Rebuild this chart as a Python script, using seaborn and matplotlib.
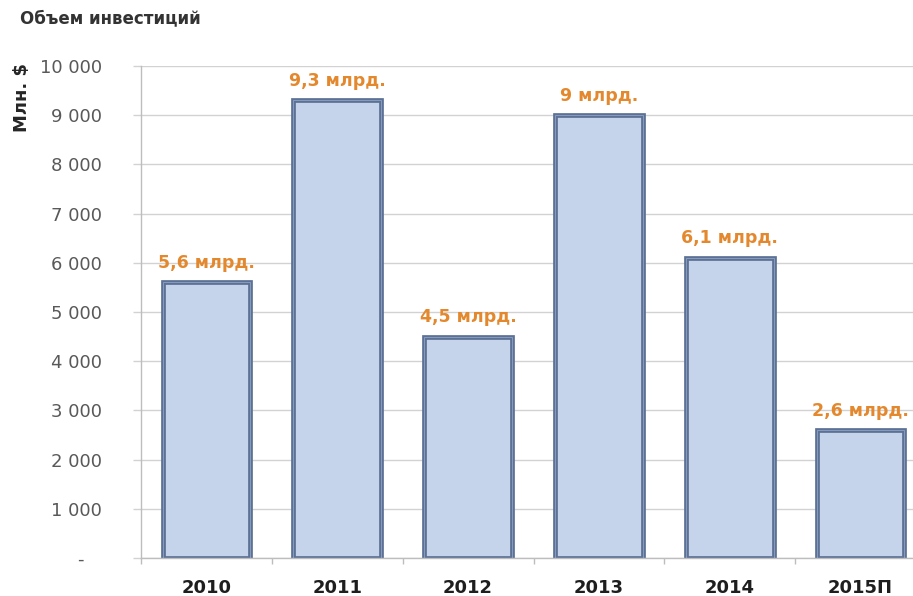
import matplotlib
matplotlib.use("Agg")
import matplotlib.pyplot as plt
from matplotlib.patches import Rectangle
import seaborn as sns
import pandas as pd

# Объем инвестиций по годам, млн $
years = ["2010", "2011", "2012", "2013", "2014", "2015П"]
investments = [5600, 9300, 4500, 9000, 6100, 2600]
value_labels = ["5,6 млрд.", "9,3 млрд.", "4,5 млрд.", "9 млрд.", "6,1 млрд.", "2,6 млрд."]
y_ticks = [0, 1000, 2000, 3000, 4000, 5000, 6000, 7000, 8000, 9000, 10000]
y_tick_labels = ["-   ", "1 000", "2 000", "3 000", "4 000", "5 000",
                 "6 000", "7 000", "8 000", "9 000", "10 000"]

FILL = "#c5d4ea"
EDGE = "#5c7195"
EDGE_HI = "#8fa3c3"
ORANGE = "#e4882e"
GRID = "#d2d2d2"

sns.set_style("white")
plt.rcParams["font.family"] = ["DejaVu Sans"]

W, H = 913, 596
fig = plt.figure(figsize=(W / 100, H / 100), dpi=100)
ax = fig.add_axes([141 / W, 38 / H, 785 / W, 492 / H])

df = pd.DataFrame({"year": years, "value": investments})
sns.barplot(data=df, x="year", y="value", ax=ax, width=0.67,
            color=FILL, saturation=1, edgecolor=EDGE, linewidth=3.4)

# thin light line inside the bar outline for a bevelled frame
for p in list(ax.patches):
    ax.add_patch(Rectangle(p.get_xy(), p.get_width(), p.get_height(),
                           facecolor="none", edgecolor=EDGE_HI,
                           linewidth=0.6, zorder=p.get_zorder() + 0.1))

ax.set_xlim(-0.5, len(years) - 0.5)
ax.set_ylim(0, 10000)
ax.set_xlabel("")
ax.set_ylabel("")

# horizontal grid only, behind bars
ax.set_axisbelow(True)
ax.yaxis.grid(True, color=GRID, linewidth=1)
ax.xaxis.grid(False)

for side in ("top", "right"):
    ax.spines[side].set_visible(False)
for side in ("left", "bottom"):
    ax.spines[side].set_color("#bdbdbd")
    ax.spines[side].set_linewidth(1)

ax.set_yticks(y_ticks)
ax.set_yticklabels(y_tick_labels, color="#595959", fontsize=13)
ax.tick_params(axis="y", which="major", direction="out", length=6,
               color=GRID, width=1, pad=22, left=True)

ax.set_xticks(range(len(years)))
ax.set_xticklabels(years, fontsize=13, fontweight="bold", color="#1e1e1e")
ax.tick_params(axis="x", which="major", length=0, pad=15)
ax.set_xticks([i - 0.5 for i in range(len(years) + 1)], minor=True)
ax.tick_params(axis="x", which="minor", direction="out", length=4.5,
               color="#bdbdbd", width=1, bottom=True)

for i, (v, lab) in enumerate(zip(investments, value_labels)):
    ax.annotate(lab, (i, v), xytext=(0, 14), textcoords="offset points",
                ha="center", va="center", color=ORANGE,
                fontsize=12.5, fontweight="bold")

fig.text(20 / W, 1 - 18 / H, "Объем инвестиций", ha="left", va="center",
         fontsize=12, fontweight="bold", color="#333333")
fig.text(22 / W, 1 - 97 / H, "Млн. $", ha="center", va="center",
         rotation=90, fontsize=13, fontweight="bold", color="#262626")

fig.savefig("out.png", dpi=100)
